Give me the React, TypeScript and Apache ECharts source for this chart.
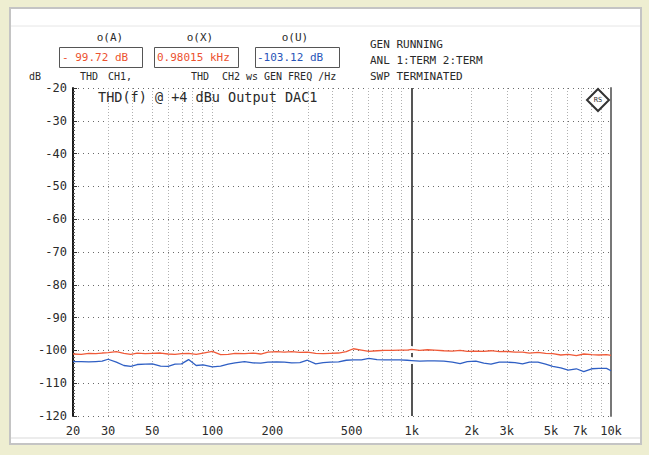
import React, { useEffect, useRef } from "react";
import * as echarts from "echarts";

const freqs = [20, 22, 24, 26, 28, 30, 33, 36, 39, 42, 46, 50, 55, 60, 65, 70, 76, 83, 90, 100, 110, 120, 130, 145, 160, 175, 190, 210, 230, 250, 275, 300, 330, 360, 390, 430, 470, 510, 560, 610, 670, 730, 800, 870, 950, 1000, 1100, 1200, 1300, 1450, 1600, 1750, 1900, 2100, 2300, 2500, 2750, 3000, 3300, 3600, 3900, 4300, 4700, 5100, 5600, 6100, 6700, 7300, 8000, 8700, 9500, 10000];

const thdCh1 = [-101.1, -101.2, -100.9, -101.0, -100.8, -100.7, -100.4, -100.9, -101.2, -100.8, -101.0, -100.9, -100.8, -101.1, -101.2, -101.0, -100.9, -101.2, -100.8, -100.3, -101.3, -101.2, -100.9, -101.0, -100.8, -101.1, -100.5, -100.4, -100.5, -100.4, -100.6, -100.5, -100.9, -101.0, -100.9, -100.8, -100.4, -99.5, -99.9, -100.3, -100.1, -100.0, -100.0, -99.9, -99.9, -99.7, -100.0, -99.8, -99.9, -100.1, -100.2, -100.0, -100.3, -100.2, -100.3, -100.1, -100.4, -100.3, -100.5, -100.5, -100.8, -100.6, -100.9, -101.0, -101.4, -101.2, -101.6, -101.1, -101.3, -101.4, -101.3, -101.5];

const thdCh2 = [-103.4, -103.4, -103.5, -103.4, -103.3, -102.7, -103.6, -104.6, -104.9, -104.3, -104.2, -104.1, -104.8, -104.9, -104.2, -104.1, -102.8, -104.6, -104.4, -105.0, -104.8, -104.2, -103.8, -103.4, -103.8, -103.9, -103.6, -103.5, -103.6, -103.8, -103.7, -103.0, -104.1, -103.7, -103.6, -103.5, -103.0, -102.9, -102.9, -102.4, -102.8, -102.9, -102.9, -102.9, -103.0, -103.1, -103.3, -103.2, -103.2, -103.3, -103.6, -104.0, -103.4, -103.3, -103.9, -104.2, -103.6, -103.6, -103.7, -104.1, -103.6, -103.6, -104.2, -104.9, -105.3, -106.0, -105.6, -106.5, -105.6, -105.5, -105.5, -106.2];

const xTickFreqs = [20, 30, 50, 100, 200, 500, 1000, 2000, 3000, 5000, 7000, 10000];
const xTickLabels = ["20", "30", "50", "100", "200", "500", "1k", "2k", "3k", "5k", "7k", "10k"];
const gridFreqs = [30, 40, 50, 60, 70, 80, 90, 100, 200, 300, 400, 500, 600, 700, 800, 900, 2000, 3000, 4000, 5000, 6000, 7000, 8000, 9000];
const cursorFreq = 1000;

const MONO = "'DejaVu Sans Mono', 'Liberation Mono', monospace";

function txt(text: string, x: number, y: number, opts: any = {}) {
  return {
    type: "text",
    x,
    y,
    z: 50,
    style: {
      text,
      font: `${opts.size || 10}px ${MONO}`,
      fill: opts.fill || "#2a2a2a",
      align: opts.align || "left",
      verticalAlign: "middle",
    },
  };
}

export default function App() {
  const ref = useRef<HTMLDivElement>(null);
  useEffect(() => {
    if (!ref.current) return;
    const chart = echarts.init(ref.current, undefined, { renderer: "svg" });
    const lg = (f: number) => Math.log10(f);
    const labelFor = (v: number) => {
      let best = 0;
      for (let i = 0; i < xTickFreqs.length; i++) {
        if (Math.abs(lg(xTickFreqs[i]) - v) < Math.abs(lg(xTickFreqs[best]) - v)) best = i;
      }
      return xTickLabels[best];
    };
    const ci = freqs.indexOf(cursorFreq);
    const option: any = {
      animation: false,
      backgroundColor: "#eeeed1",
      grid: { left: 73, top: 88, width: 538, height: 328, containLabel: false },
      xAxis: {
        type: "value",
        min: lg(20),
        max: 4,
        axisLine: { show: false },
        axisTick: { show: false },
        splitLine: { show: false },
        axisLabel: {
          customValues: xTickFreqs.map(lg),
          formatter: (v: number) => labelFor(v),
          color: "#2a2a2a",
          fontFamily: MONO,
          fontSize: 12,
          margin: 9,
          showMinLabel: true,
          showMaxLabel: true,
        },
      },
      yAxis: [
        {
          type: "value",
          min: -120,
          max: -20,
          interval: 10,
          axisLine: { show: true, lineStyle: { color: "#1a1a1a", width: 2 } },
          axisTick: { show: true, inside: true, length: 4, lineStyle: { color: "#333" } },
          minorTick: { show: true, splitNumber: 10, length: 2, lineStyle: { color: "#555" } },
          splitLine: { show: true, lineStyle: { color: "#6a6a6a", type: [1, 4], width: 1 } },
          axisLabel: { color: "#2a2a2a", fontFamily: MONO, fontSize: 12, margin: 6 },
        },
        {
          type: "value",
          min: -120,
          max: -20,
          interval: 10,
          position: "right",
          axisLine: { show: true, lineStyle: { color: "#777", width: 2 } },
          axisTick: { show: false },
          axisLabel: { show: false },
          splitLine: { show: false },
        },
      ],
      series: [
        {
          name: "grid",
          type: "line",
          data: [],
          silent: true,
          markLine: {
            silent: true,
            symbol: "none",
            label: { show: false },
            lineStyle: { color: "#b0b0b0", type: [1, 2], width: 1 },
            data: gridFreqs.map((f) => ({ xAxis: lg(f) })),
          },
        },
        {
          name: "THD CH1",
          type: "line",
          data: freqs.map((f, i) => [lg(f), thdCh1[i]]),
          showSymbol: false,
          lineStyle: { color: "#f05a38", width: 1.3 },
          z: 5,
          markLine: {
            silent: true,
            symbol: "none",
            label: { show: false },
            lineStyle: { color: "#555", type: "solid", width: 2 },
            data: [{ xAxis: lg(cursorFreq) }],
          },
          markPoint: {
            silent: true,
            symbol: "emptyCircle",
            symbolSize: 5,
            label: { show: false },
            itemStyle: { color: "#fff", borderColor: "#888", borderWidth: 1 },
            data: [{ coord: [lg(cursorFreq), thdCh1[ci]] }],
          },
        },
        {
          name: "THD CH2",
          type: "line",
          data: freqs.map((f, i) => [lg(f), thdCh2[i]]),
          showSymbol: false,
          lineStyle: { color: "#2f5fc4", width: 1.3 },
          z: 5,
          markPoint: {
            silent: true,
            symbol: "emptyCircle",
            symbolSize: 5,
            label: { show: false },
            itemStyle: { color: "#fff", borderColor: "#888", borderWidth: 1 },
            data: [{ coord: [lg(cursorFreq), thdCh2[ci]] }],
          },
        },
      ],
      graphic: [
        {
          type: "rect",
          z: -100,
          shape: { x: 10, y: 8, width: 631, height: 436 },
          style: { fill: "#ffffff", stroke: "#c4c4c4", lineWidth: 2 },
        },
        {
          type: "line",
          z: -90,
          shape: { x1: 11, y1: 26, x2: 640, y2: 26 },
          style: { stroke: "#e6e6e6", lineWidth: 1 },
        },
        {
          type: "line",
          z: -90,
          shape: { x1: 11, y1: 438, x2: 640, y2: 438 },
          style: { stroke: "#ececec", lineWidth: 2 },
        },
        txt("o(A)", 110, 37, { align: "center", size: 11 }),
        txt("o(X)", 200, 37, { align: "center", size: 11 }),
        txt("o(U)", 295, 37, { align: "center", size: 11 }),
        { type: "rect", z: 40, shape: { x: 59.5, y: 47.5, width: 83, height: 20 }, style: { fill: "#fff", stroke: "#555", lineWidth: 1 } },
        { type: "rect", z: 40, shape: { x: 154.5, y: 47.5, width: 84, height: 20 }, style: { fill: "#fff", stroke: "#555", lineWidth: 1 } },
        { type: "rect", z: 40, shape: { x: 255.5, y: 47.5, width: 84, height: 20 }, style: { fill: "#fff", stroke: "#555", lineWidth: 1 } },
        txt("- 99.72 dB", 62, 57, { fill: "#ec5230", size: 11 }),
        txt("0.98015 kHz", 157, 57, { fill: "#ec5230", size: 11 }),
        txt("-103.12 dB", 257, 57, { fill: "#2a55b8", size: 11 }),
        txt("dB", 29, 76),
        txt("THD", 80, 76),
        txt("CH1,", 108, 76),
        txt("THD", 191, 76),
        txt("CH2 ws", 222, 76),
        txt("GEN FREQ /Hz", 264, 76),
        txt("GEN RUNNING", 370, 44, { size: 11 }),
        txt("ANL 1:TERM 2:TERM", 370, 60, { size: 11 }),
        txt("SWP TERMINATED", 370, 76, { size: 11 }),
        txt("THD(f) @ +4 dBu Output DAC1", 98, 97, { size: 13.5 }),
        {
          type: "polygon",
          z: 50,
          shape: { points: [[598, 89], [609, 100], [598, 111], [587, 100]] },
          style: { fill: "#fff", stroke: "#333", lineWidth: 2 },
        },
        txt("RS", 598, 100, { size: 7, align: "center", fill: "#333" }),
      ],
    };
    chart.setOption(option);
    return () => chart.dispose();
  }, []);
  return (
    <div
      ref={ref}
      style={{ position: "fixed", left: 0, top: 0, width: 649, height: 455 }}
    />
  );
}
